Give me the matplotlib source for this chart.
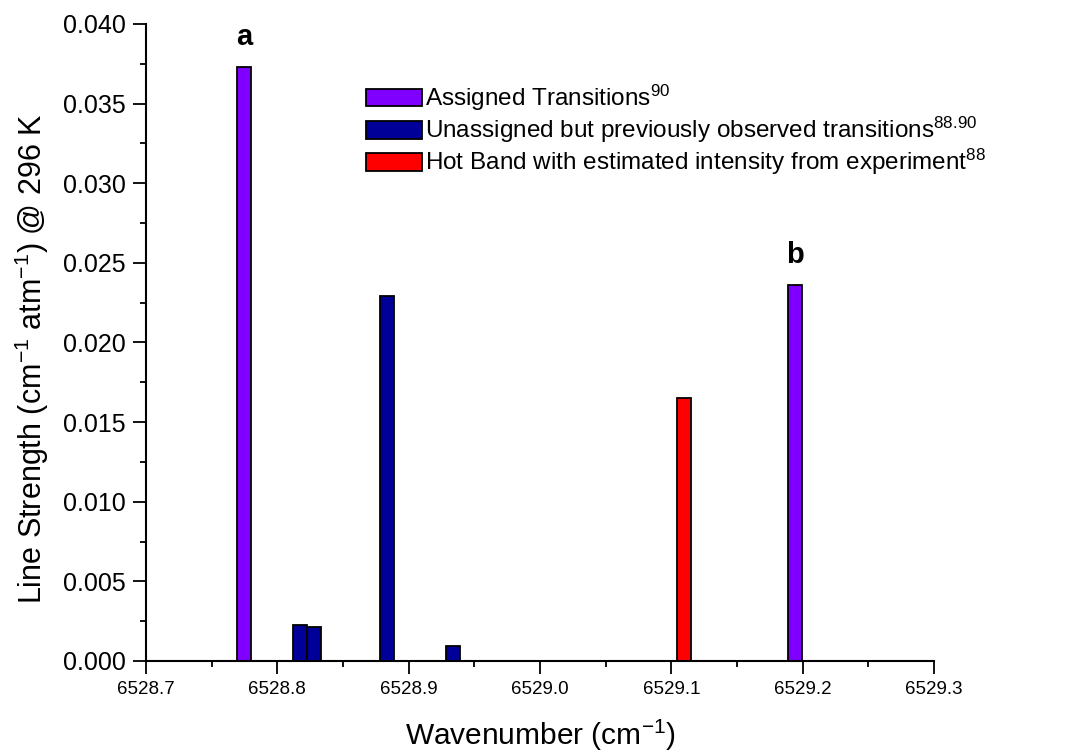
import matplotlib
matplotlib.use('Agg')
import matplotlib.pyplot as plt
from matplotlib.ticker import MultipleLocator, FormatStrFormatter

plt.rcParams['font.family'] = ['Liberation Sans', 'DejaVu Sans']
plt.rcParams['mathtext.fontset'] = 'custom'
plt.rcParams['mathtext.rm'] = 'Liberation Sans'
plt.rcParams['mathtext.it'] = 'Liberation Sans:italic'
plt.rcParams['mathtext.bf'] = 'Liberation Sans:bold'

# line positions (cm-1) and strengths for each group
assigned_pos = [6528.7746, 6529.1943]
assigned_str = [0.0373, 0.0236]
unassigned_pos = [6528.8171, 6528.8277, 6528.8838, 6528.9339]
unassigned_str = [0.00226, 0.00216, 0.0229, 0.00097]
hotband_pos = [6529.1097]
hotband_str = [0.0165]
peak_labels = ['a', 'b']

bar_w = 0.0107

fig = plt.figure(figsize=(10.75, 7.56), dpi=100)
ax = fig.add_axes([0.1358, 0.1257, 0.733, 0.8426])

ax.bar(assigned_pos, assigned_str, width=bar_w, color='#8000FF', edgecolor='black',
       linewidth=1.3, label=r'Assigned Transitions$^{90}$')
ax.bar(unassigned_pos, unassigned_str, width=bar_w, color='#000099', edgecolor='black',
       linewidth=1.3, label=r'Unassigned but previously observed transitions$^{88.90}$')
ax.bar(hotband_pos, hotband_str, width=bar_w, color='#FF0000', edgecolor='black',
       linewidth=1.3, label=r'Hot Band with estimated intensity from experiment$^{88}$')

# peak letters above the assigned lines
for xp, yp, lab in zip(assigned_pos, assigned_str, peak_labels):
    ax.annotate(lab, (xp, yp), xytext=(0, 16), textcoords='offset points',
                ha='center', va='baseline', fontsize=21, fontweight='bold')

ax.set_xlim(6528.7, 6529.3)
ax.set_ylim(0, 0.040)
ax.xaxis.set_major_locator(MultipleLocator(0.1))
ax.xaxis.set_minor_locator(MultipleLocator(0.05))
ax.yaxis.set_major_locator(MultipleLocator(0.005))
ax.yaxis.set_minor_locator(MultipleLocator(0.0025))
ax.xaxis.set_major_formatter(FormatStrFormatter('%.1f'))
ax.yaxis.set_major_formatter(FormatStrFormatter('%.3f'))

ax.spines['top'].set_visible(False)
ax.spines['right'].set_visible(False)
for s in ['left', 'bottom']:
    ax.spines[s].set_linewidth(1.5)
ax.tick_params(which='major', direction='out', length=9.5, width=1.3)
ax.tick_params(which='minor', direction='out', length=4.5, width=1.3)
ax.tick_params(axis='y', labelsize=18, pad=5)
ax.tick_params(axis='x', labelsize=13.5, pad=5)

ax.set_xlabel(r'Wavenumber (cm$^{-1}$)', fontsize=21.5, labelpad=14)
ax.set_ylabel(r'Line Strength (cm$^{-1}$ atm$^{-1}$) @ 296 K', fontsize=22)
ax.yaxis.set_label_coords(-0.121, 0.474)

ax.legend(loc='upper left', bbox_to_anchor=(366 / 1075, 1 - 83 / 756),
          bbox_transform=fig.transFigure, frameon=False, fontsize=17.5,
          handlelength=2.3, handleheight=0.74, handletextpad=0.12,
          labelspacing=0.08, borderpad=0, borderaxespad=0)

fig.savefig('out.png', dpi=100)
